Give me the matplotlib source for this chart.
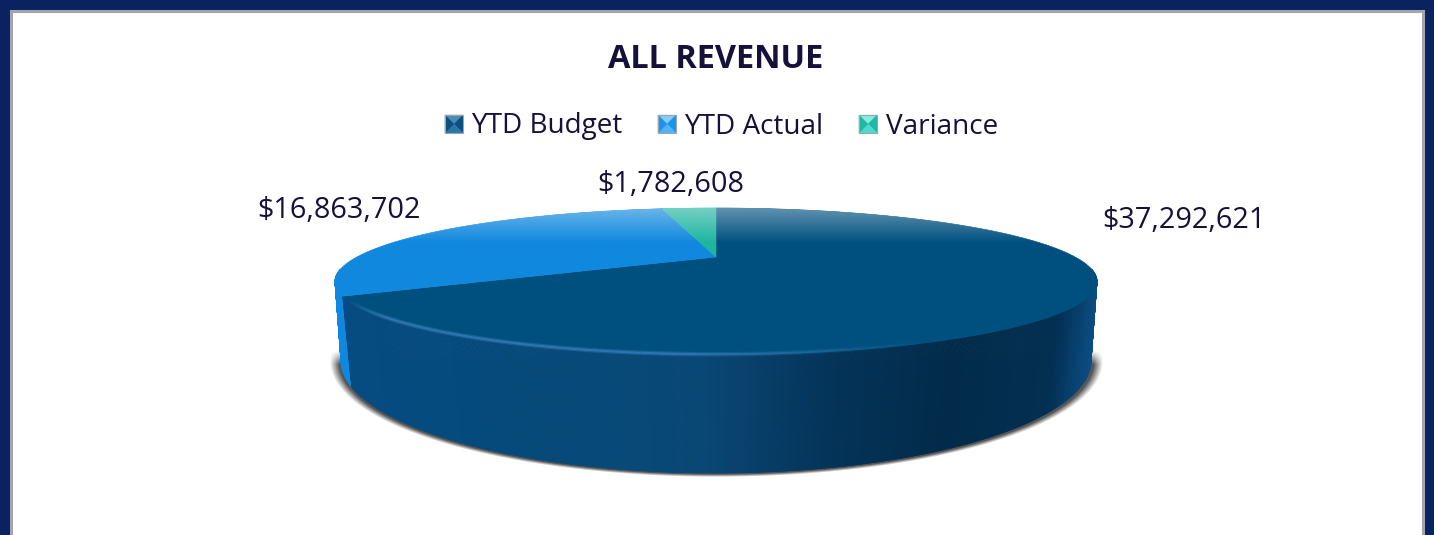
import numpy as np
import matplotlib
matplotlib.use('Agg')
import matplotlib.pyplot as plt
from matplotlib.colors import LinearSegmentedColormap
from matplotlib.collections import PolyCollection, LineCollection
from matplotlib.patches import Polygon, Rectangle

categories = ['YTD Budget', 'YTD Actual', 'Variance']
values = [37292621, 16863702, 1782608]

top_colors = ['#00507f', '#0f88de', '#1fb4a0']
wall_colors = [None, '#0f88e0', '#1fb4a0']
marker_colors = [('#4a8cb4', '#0a4f80', '#2a76a8'),
                 ('#86ccf7', '#1a95ef', '#52b2f6'),
                 ('#84ecdd', '#20b8a4', '#4cdaca')]
label_pos = [(1184, 220), (339, 210), (671, 185)]
legend_x = [445, 658, 859]
legend_y = 115
text_color = '#15113a'
navy = '#0b2260'

# wall shade of the big slice, from left to right
wall_cmap = LinearSegmentedColormap.from_list('wall', [
    (0.00, '#064c82'), (0.20, '#054a7c'), (0.48, '#094876'), (0.56, '#073f69'),
    (0.65, '#04345a'), (0.81, '#022b4a'), (0.95, '#032f52'), (1.00, '#0b4d82')])

CX = 716


def project(deg, back, front, half_width, k):
    # circle seen in perspective, angle clockwise from the back of the pie
    t = np.radians(deg)
    X, Y = np.sin(t), np.cos(t)
    a = (back * (1 + k) - front * (1 - k)) / 2
    b = (back * (1 + k) + front * (1 - k)) / 2
    w = 1 + k * Y
    A = half_width * np.sqrt(1 - k ** 2)
    return CX + A * X / w, (a * Y + b) / w


def top_rim(deg):
    return project(deg, 208, 355, 381, 1 / 3)


def bottom_rim(deg):
    return project(deg, 247, 473, 375, 0.3)


fig = plt.figure(figsize=(14.34, 5.35), dpi=100, facecolor=navy)
ax = fig.add_axes([0, 0, 1, 1])
ax.set_xlim(0, 1434)
ax.set_ylim(535, 0)
ax.axis('off')

ax.add_patch(Rectangle((10.5, 10.5), 1412, 530, facecolor='white',
                       edgecolor='#a3a5ad', linewidth=2.2, zorder=1))

# shadow under the pie
yy, xx = np.mgrid[340:490, 320:1115]
r = np.sqrt(((xx - CX) / 386.5) ** 2 + ((yy - 361) / 115.5) ** 2)
alpha = np.clip((1 - r) / 0.024, 0, 1) * np.clip((yy - 350) / 14.0, 0, 1) * 0.85
shadow = np.zeros(alpha.shape + (4,))
shadow[..., :3] = 0.22
shadow[..., 3] = alpha
ax.imshow(shadow, extent=(320, 1115, 490, 340), aspect='auto', zorder=2,
          interpolation='bilinear')

total = sum(values)
edges = np.concatenate([[0], np.cumsum(values) / total * 360])

# walls, one thin strip per step so the shade can follow x; the back is hidden
for i in [1, 0]:
    lo, hi = max(edges[i], 100), min(edges[i + 1], 260)
    angs = np.linspace(lo, hi, int((hi - lo) * 4) + 2)
    xt, yt = top_rim(angs)
    xb, yb = bottom_rim(angs)
    quads = [[(xt[j], yt[j]), (xt[j + 1], yt[j + 1]), (xb[j + 1], yb[j + 1]), (xb[j], yb[j])]
             for j in range(len(angs) - 1)]
    if wall_colors[i] is None:
        cols = [wall_cmap((q[0][0] - 335) / 762.0) for q in quads]
    else:
        cols = [wall_colors[i]] * len(quads)
    ax.add_collection(PolyCollection(quads, facecolors=cols, edgecolors=cols,
                                     linewidths=0.6, zorder=3))

# top faces
apex_y = 257
for i in range(3):
    angs = np.linspace(edges[i], edges[i + 1], 400)
    xt, yt = top_rim(angs)
    pts = np.column_stack([np.r_[CX, xt], np.r_[apex_y, yt]])
    ax.add_patch(Polygon(pts, closed=True, facecolor=top_colors[i],
                         edgecolor=top_colors[i], linewidth=0.4, zorder=4))

# pale sheen on the back of the top face, fades downwards
gy, gx = np.mgrid[205:250, 335:1098]
ell = 1 - ((gx + 0.5 - CX) / 381.0) ** 2
rim_y = 281.5 - 73.5 * np.sqrt(np.clip(ell, 0, 1))
inside = np.clip(gy + 0.5 - rim_y + 0.5, 0, 1)
sheen_a = 0.38 * np.clip((243 - (gy + 0.5)) / 35.0, 0, 1) * inside
sheen = np.ones(sheen_a.shape + (4,))
sheen[..., 3] = sheen_a
ax.imshow(sheen, extent=(335, 1098, 250, 205), aspect='auto', zorder=5,
          interpolation='bilinear')

# highlight along the front rim of the big slice, fades to the right
angs = np.linspace(edges[1] - 2, 125, 300)
xt, yt = top_rim(angs)
segs = [[(xt[j], yt[j] - 0.8), (xt[j + 1], yt[j + 1] - 0.8)] for j in range(len(angs) - 1)]
fade = np.clip((930 - xt[:-1]) / 260.0, 0, 1) * np.clip((xt[:-1] - 345) / 40.0, 0, 1)
ax.add_collection(LineCollection(segs, colors=[(0.25, 0.52, 0.75, 0.35 * f) for f in fade],
                                 linewidths=3.2, zorder=6))
ax.add_collection(LineCollection(segs, colors=[(0.25, 0.52, 0.75, 0.6 * f) for f in fade],
                                 linewidths=1.4, zorder=6))

# texts
font = ['Open Sans', 'DejaVu Sans']
ax.text(716, 59, 'ALL REVENUE', family=font, fontsize=23.4, fontweight='bold',
        color=text_color, ha='center', va='center', zorder=8)
for i, (name, val) in enumerate(zip(categories, values)):
    x = legend_x[i]
    y = legend_y
    s = 18
    mx, my = x + s / 2, y + s / 2
    corners = [(x, y), (x + s, y), (x + s, y + s), (x, y + s)]
    top, side, bot = marker_colors[i]
    tris = [(corners[0], corners[1], top), (corners[1], corners[2], side),
            (corners[2], corners[3], bot), (corners[3], corners[0], side)]
    for p, q, c in tris:
        ax.add_patch(Polygon([p, q, (mx, my)], closed=True, facecolor=c, edgecolor=c,
                             linewidth=0.3, zorder=7))
    ax.add_patch(Rectangle((x, y), s, s, fill=False, edgecolor='#a0a4aa',
                           linewidth=0.8, zorder=7))
    ax.text(x + 26.5, 126.5, name, family=font, fontsize=20.1, color=text_color,
            ha='left', va='center', zorder=8)
    lx, ly = label_pos[i]
    ax.text(lx, ly, f'${val:,}', family=font, fontsize=20.8, color=text_color,
            ha='center', va='center', zorder=8)

ax.set_xlim(0, 1434)
ax.set_ylim(535, 0)
fig.savefig('out.png', dpi=100, facecolor=navy)
